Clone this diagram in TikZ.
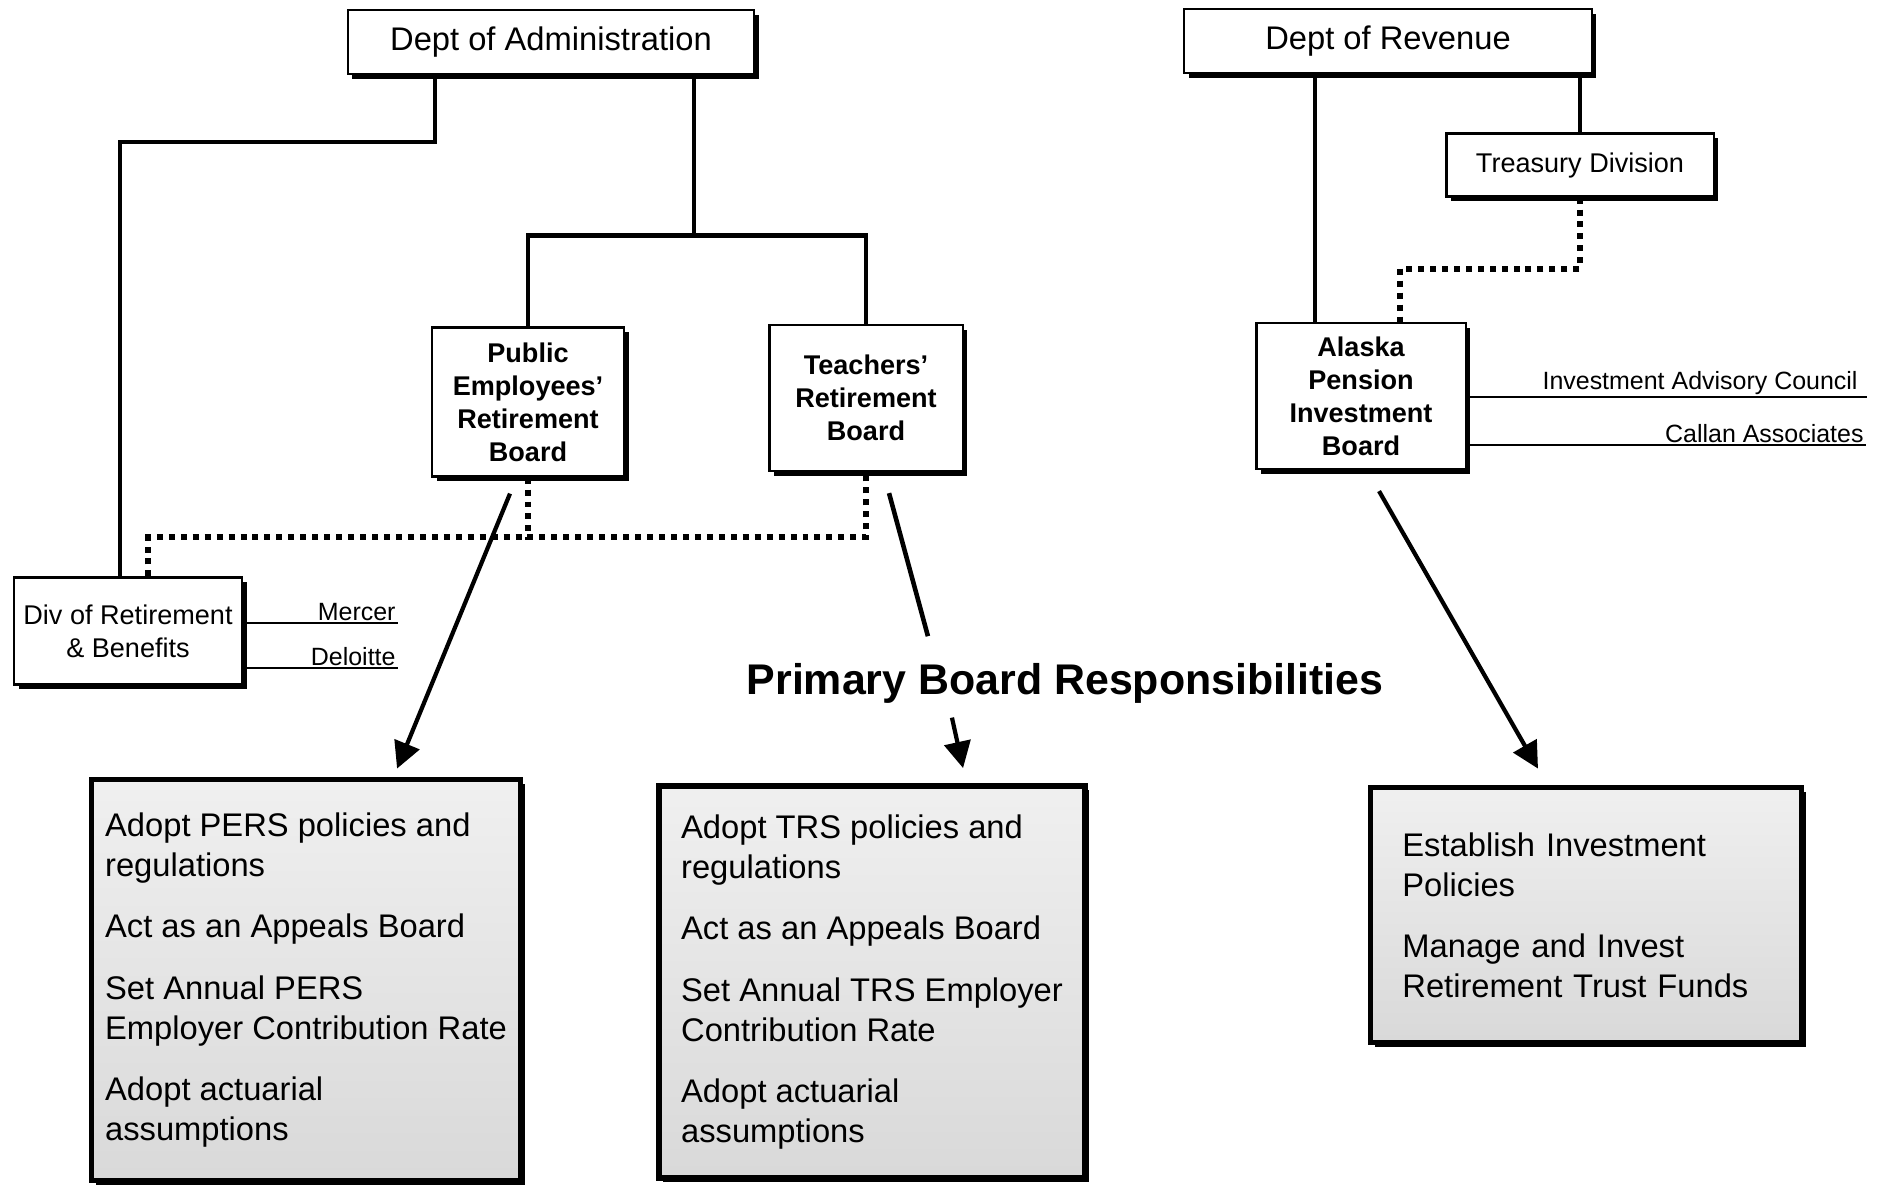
\documentclass[tikz,border=0pt]{standalone}
\usepackage{fontspec}
\setmainfont{Liberation Sans}
\usetikzlibrary{arrows.meta, shadows}
\tikzset{
  >={Triangle[length=7.5pt,width=7.5pt]},
  box/.style={draw, line width=0.6pt, fill=white, inner sep=2pt, align=center,
    drop shadow={shadow xshift=1.3pt, shadow yshift=-1.3pt, fill=black, opacity=1}},
  dept/.style={box, font=\fontsize{9.3}{11}\selectfont},
  office/.style={box, font=\fontsize{7.7}{9.4}\selectfont},
  board/.style={box, font=\fontsize{7.7}{9.4}\selectfont\bfseries},
  duty/.style={draw, line width=1.6pt, top color=black!6, bottom color=black!15,
    align=left, font=\fontsize{9.3}{11.4}\selectfont,
    drop shadow={shadow xshift=1.2pt, shadow yshift=-1.2pt, fill=black, opacity=1}},
  advisor/.style={font=\fontsize{7.1}{8}\selectfont, inner sep=0.5pt, anchor=south east},
  link/.style={line width=1.3pt},
  dotlink/.style={line width=1.7pt, dash pattern=on 1.7pt off 1.7pt},
  arr/.style={->, line width=1.2pt}
}

\begin{document}
\begin{tikzpicture}[x=0.01cm, y=-0.01cm]
  \useasboundingbox (0,0) rectangle (1883,1191);

  % Departments, divisions and boards
  \node[dept, minimum width=4.06cm, minimum height=0.64cm] (admin) at (551,42) {Dept of Administration};
  \node[dept, minimum width=4.07cm, minimum height=0.64cm] (revenue) at (1388,41) {Dept of Revenue};
  \node[office, minimum width=2.67cm, minimum height=0.63cm] (treasury) at (1580,165) {Treasury Division};
  \node[board, minimum width=1.92cm, minimum height=1.49cm] (perb) at (528,402) {Public\\Employees'\\Retirement\\Board};
  \node[board, minimum width=1.93cm, minimum height=1.46cm] (trb) at (866,398) {Teachers'\\Retirement\\Board};
  \node[board, minimum width=2.09cm, minimum height=1.46cm] (apib) at (1361,396) {Alaska\\Pension\\Investment\\Board};
  \node[office, minimum width=2.28cm, minimum height=1.07cm] (drb) at (128,631) {Div of Retirement\\\& Benefits};

  % Outside advisors
  \node[advisor] (mercer) at (398,623) {Mercer};
  \node[advisor] (deloitte) at (398,668) {Deloitte};
  \node[advisor] (iac) at (1860,397) {Investment Advisory Council};
  \node[advisor] (callan) at (1866,445) {Callan Associates};
  \draw[line width=0.6pt] (drb.east |- mercer.south) -- (mercer.south east);
  \draw[line width=0.6pt] (drb.east |- deloitte.south) -- (deloitte.south east);
  \draw[line width=0.6pt] (apib.east |- iac.south) -- ([xshift=0.07cm]iac.south east);
  \draw[line width=0.6pt] (apib.east |- callan.south) -- (callan.south east);

  % Reporting lines
  \draw[link] ([xshift=-1.16cm]admin.south) -- ++(0,67) -| ([xshift=-0.08cm]drb.north);
  \draw[link] ([xshift=1.43cm]admin.south) -- ++(0,162);
  \draw[link] (perb.north) -- ++(0,-91) -| (trb.north);
  \draw[link] (treasury.north) -- (treasury.north |- revenue.south);
  \draw[link] ([xshift=-0.46cm]apib.north) -- ([xshift=-0.46cm]apib.north |- revenue.south);

  % Staff support
  \draw[dotlink] (treasury.south) -- ++(0,71) -| ([xshift=0.39cm]apib.north);
  \draw[dotlink] ([xshift=0.2cm]drb.north) -- ++(0,-39) -| (trb.south);
  \draw[dotlink] (perb.south) -- ++(0,62);

  % Responsibilities
  \node[font=\fontsize{12.2}{14}\selectfont\bfseries, inner sep=0pt, anchor=base] (title) at (1065,694) {Primary Board Responsibilities};
  \node[duty, minimum width=4.29cm, minimum height=4.01cm] (pers) at (306,980)
    {Adopt PERS policies and\\regulations\\[6pt]Act as an Appeals Board\\[6pt]Set Annual PERS\\Employer Contribution Rate\\[6pt]Adopt actuarial\\assumptions};
  \node[duty, minimum width=4.26cm, minimum height=3.92cm] (trs) at (872,982)
    {Adopt TRS policies and\\regulations\\[6pt]Act as an Appeals Board\\[6pt]Set Annual TRS Employer\\Contribution Rate\\[6pt]Adopt actuarial\\assumptions};
  \node[duty, text width=3.67cm, minimum width=4.31cm, minimum height=2.55cm] (invest) at (1586,915)
    {Establish Investment\\Policies\\[6pt]Manage and Invest\\Retirement Trust Funds};

  \draw[arr] ([xshift=-0.18cm,yshift=-0.16cm]perb.south) -- ([xshift=0.91cm,yshift=0.08cm]pers.north);
  \draw[link] ([xshift=0.23cm,yshift=-0.21cm]trb.south) -- ([xshift=-1.37cm,yshift=0.26cm]title.north);
  \draw[arr] ([xshift=-1.13cm,yshift=-0.14cm]title.south) -- ([xshift=0.91cm,yshift=0.15cm]trs.north);
  \draw[arr] ([xshift=0.18cm,yshift=-0.21cm]apib.south) -- ([xshift=-0.48cm,yshift=0.16cm]invest.north);
\end{tikzpicture}
\end{document}
